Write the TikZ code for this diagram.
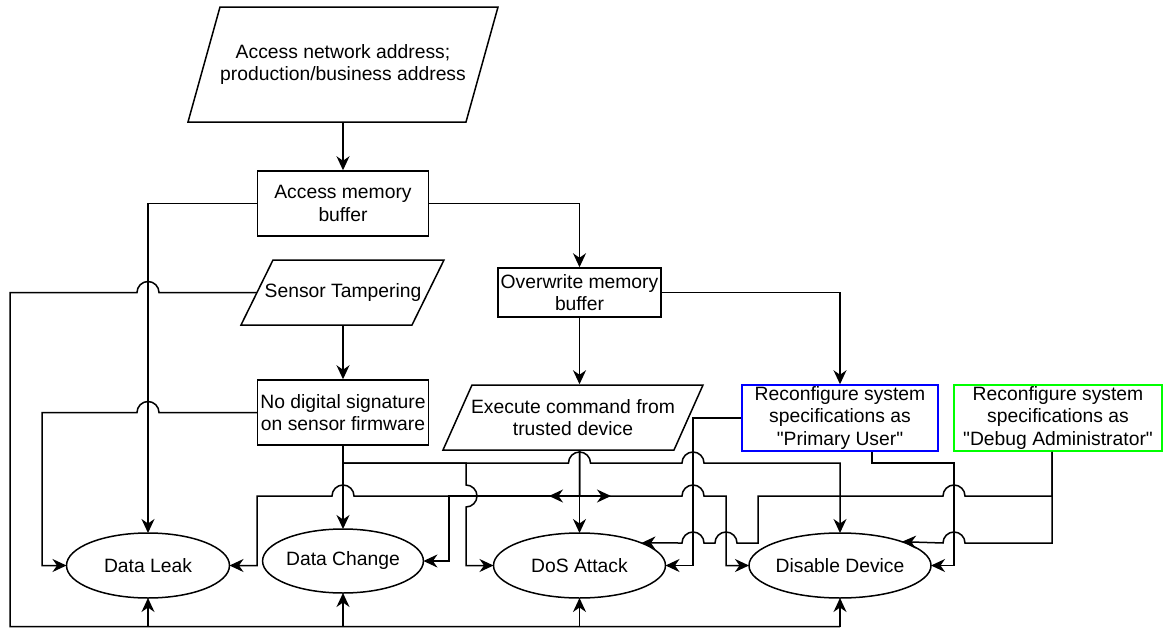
\documentclass[tikz,border=0pt]{standalone}
\usepackage{fontspec}
\setmainfont{Liberation Sans}
\newfontfamily\plainsans{Liberation Sans}
\usetikzlibrary{arrows.meta,shapes.geometric,calc}
\begin{document}
\begin{tikzpicture}[x=1pt,y=-1pt,
  font=\plainsans\fontsize{19.3}{22.5}\selectfont,
  line width=1.5pt,
  arr/.style={-{Stealth[length=14pt,width=13pt,inset=4.5pt]}},
  box/.style={draw, rectangle, inner sep=0pt, align=center},
  pbox/.style={rectangle, inner sep=0pt, align=center},
  oval/.style={draw, ellipse, inner sep=0pt, outer sep=0pt},
]
\useasboundingbox (0,0) rectangle (1163,629);

% ---------- nodes ----------
\node[pbox, minimum width=278pt, minimum height=115pt] (net) at (343,64.5) {Access network address;\\production/business address};
\draw (188,122) -- (220,7) -- (498,7) -- (466,122) -- cycle;

\node[box, minimum width=171pt, minimum height=65pt] (amb) at (343,203.5) {Access memory\\buffer};

\node[pbox, minimum width=171pt, minimum height=65pt] (sen) at (343,292.5) {Sensor Tampering};
\draw (241,325) -- (273,260) -- (444,260) -- (412,325) -- cycle;

\node[box, minimum width=163pt, minimum height=49pt] (ovw) at (579.5,292.5) {Overwrite memory\\buffer};

\node[box, minimum width=171pt, minimum height=65pt] (nds) at (343,412.5) {No digital signature\\on sensor firmware};

\node[pbox, minimum width=231pt, minimum height=65pt] (exe) at (573,417.5) {Execute command from\\trusted device};
\draw (443,450) -- (472,385) -- (703,385) -- (674,450) -- cycle;

\node[box, draw=blue, minimum width=196pt, minimum height=66pt] (pu) at (840,418) {Reconfigure system\\specifications as\\"Primary User"};
\node[box, draw=green, minimum width=208pt, minimum height=66pt] (dbg) at (1058,418) {Reconfigure system\\specifications as\\"Debug Administrator"};

\node[oval, minimum width=163pt, minimum height=65pt] (dl) at (148,565.5) {Data Leak};
\node[oval, minimum width=160pt, minimum height=64pt] (dc) at (343,561) {Data Change};
\node[oval, minimum width=172pt, minimum height=65pt] (dos) at (579.5,565.5) {DoS Attack};
\node[oval, minimum width=164pt, minimum height=65pt] (dd) at (840,565.5) {Disable Device};

\coordinate (bus) at (10,626.5);
\coordinate (tl) at (549,496);
\coordinate (tr) at (611,496);

% ---------- connectors ----------
\draw[arr] (net) -- (amb);
\draw[arr] (amb.west) -| (dl.north);
\draw[arr] (amb.east) -| (ovw.north);
\draw[arr] (sen) -- (nds);
\draw[arr] (ovw) -- (ovw |- exe.north);
\draw[arr] (ovw.east) -| (pu.north);

% sensor tampering bus
\draw (sen.west) -- (159,292.5) arc[start angle=0,end angle=180,radius=11pt] -- (10,292.5) -- (bus) -- (dd.south |- bus);
\draw[arr] (dl.south |- bus) -- (dl.south);
\draw[arr] (dc.south |- bus) -- (dc.south);
\draw[arr] (dos.south |- bus) -- (dos.south);
\draw[arr] (dd.south |- bus) -- (dd.south);

% no digital signature
\draw[arr] (nds.west) -- (159,412.5) arc[start angle=0,end angle=180,radius=11pt] -- (42,412.5) |- (dl.west);
\draw[arr] (nds) -- (dc);
\draw[arr] (nds.south) -- (343,463) -- (466,463) -- (466,485) arc[start angle=90,end angle=-90,radius=11pt] -- (466,565.5) -- (dos.west);
\draw[arr] (nds.south) -- (343,463) -- (568.5,463) arc[start angle=180,end angle=0,radius=11pt] -- (682,463) arc[start angle=180,end angle=0,radius=11pt] -- (840,463) -- (dd.north);

% execute command
\draw[arr] (exe.south -| dos.north) -- (dos.north);
\draw[arr] (exe.south -| dos.north) -- (579.5,496) -- (354,496) arc[start angle=0,end angle=180,radius=11pt] -- (257,496) |- (dl.east);
\draw[arr] (exe.south -| dos.north) -- (579.5,496) -- (449,496) |- (dc.east);
\draw[arr] (exe.south -| dos.north) -- (579.5,496) -- (682,496) arc[start angle=180,end angle=0,radius=11pt] -- (726,496) |- (dd.west);
\draw[arr] (exe.south -| dos.north) |- (tl);
\draw[arr] (exe.south -| dos.north) |- (tr);

% primary user
\draw[arr] (pu.west) -- (693,418) |- (dos.east);
\draw[arr] ($(pu.south)+(32,0)$) -- (872,463) -- (954,463) |- (dd.east);

% debug administrator
\draw[arr] ($(dbg.south)+(-6,0)$) -- (1052,496) -- (965,496) arc[start angle=0,end angle=180,radius=11pt] -- (758,496) -- (758,543) -- (737,543) arc[start angle=0,end angle=180,radius=11pt] -- (704,543) arc[start angle=0,end angle=180,radius=11pt] -- (dos.20);
\draw[arr] ($(dbg.south)+(-6,0)$) -- (1052,543) -- (965,543) arc[start angle=0,end angle=180,radius=11pt] -- (943,543) -- (dd.21);
\end{tikzpicture}
\end{document}
